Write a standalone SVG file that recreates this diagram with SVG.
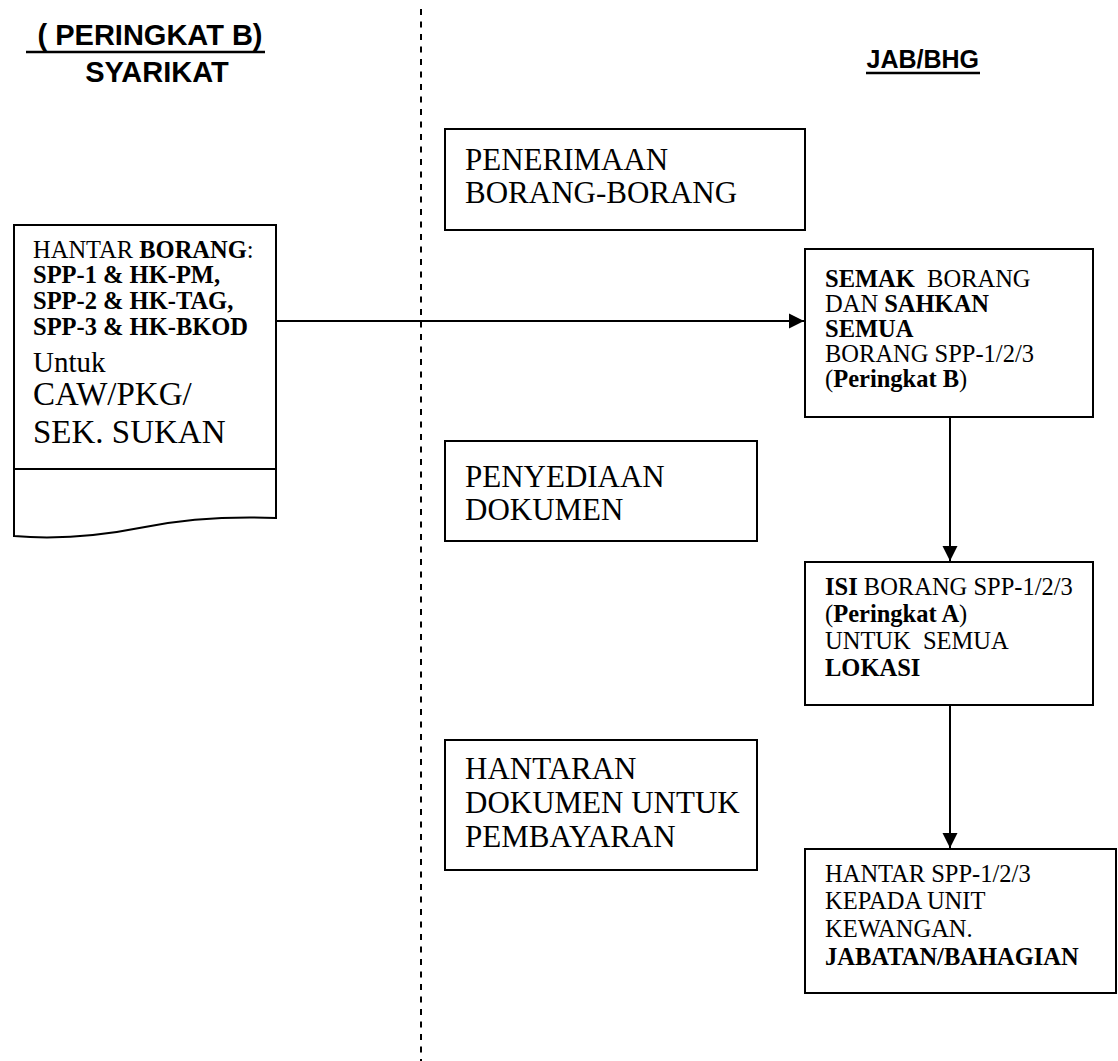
<svg xmlns="http://www.w3.org/2000/svg" width="1118" height="1061" viewBox="0 0 1118 1061">
<style>
.box{fill:#fff;stroke:#000;stroke-width:2}
.hdr{font-family:"Liberation Sans",Arial,sans-serif;font-weight:bold;fill:#000}
.t{font-family:"Liberation Serif","Times New Roman",serif;fill:#000}
.s{font-size:24.5px}
.big{font-size:31px}
.b{font-weight:bold}
.conn{stroke:#000;stroke-width:2;fill:none}
</style>
<defs>
<marker id="arr" markerWidth="16" markerHeight="16" refX="15" refY="8" orient="auto" markerUnits="userSpaceOnUse">
<path d="M0,0.5 L15,8 L0,15.5 Z" fill="#000"/>
</marker>
</defs>
<rect width="1118" height="1061" fill="#fff"/>
<line x1="421" y1="9" x2="421" y2="1061" stroke="#000" stroke-width="2" stroke-dasharray="6,6.5"/>
<g id="header-left">
<text class="hdr" x="146" y="45" font-size="29" text-anchor="middle" xml:space="preserve"> ( PERINGKAT B)</text>
<line x1="26" y1="52" x2="265" y2="52" stroke="#000" stroke-width="2.5"/>
<text class="hdr" x="157" y="82" font-size="29" text-anchor="middle">SYARIKAT</text>
</g>
<g id="header-right">
<text class="hdr" x="979" y="68" font-size="25" text-anchor="end">JAB/BHG</text>
<line x1="866" y1="73" x2="980" y2="73" stroke="#000" stroke-width="2.5"/>
</g>
<g id="node-hantar-borang">
<path class="box" d="M14,225 H276 V518 C220,516 180,520 145,527 C110,534 60,540 14,536 Z"/>
<line x1="14" y1="469" x2="276" y2="469" stroke="#000" stroke-width="2"/>
<text class="t s" x="33" y="258">HANTAR <tspan class="b">BORANG</tspan>:</text>
<text class="t s b" x="33" y="283">SPP-1 &amp; HK-PM,</text>
<text class="t s b" x="33" y="309">SPP-2 &amp; HK-TAG,</text>
<text class="t s b" x="33" y="335">SPP-3 &amp; HK-BKOD</text>
<text class="t" x="33" y="372" font-size="29">Untuk</text>
<text class="t" x="33" y="405" font-size="33">CAW/PKG/</text>
<text class="t" x="33" y="443" font-size="33">SEK. SUKAN</text>
</g>
<g id="node-penerimaan">
<rect class="box" x="445" y="129" width="360" height="101"/>
<text class="t big" x="465" y="170">PENERIMAAN</text>
<text class="t big" x="465" y="203">BORANG-BORANG</text>
</g>
<g id="node-penyediaan">
<rect class="box" x="445" y="441" width="312" height="100"/>
<text class="t big" x="465" y="487">PENYEDIAAN</text>
<text class="t big" x="465" y="520">DOKUMEN</text>
</g>
<g id="node-hantaran">
<rect class="box" x="445" y="740" width="312" height="130"/>
<text class="t big" x="465" y="779">HANTARAN</text>
<text class="t big" x="465" y="813">DOKUMEN UNTUK</text>
<text class="t big" x="465" y="847">PEMBAYARAN</text>
</g>
<g id="node-semak">
<rect class="box" x="805" y="249" width="288" height="168"/>
<text class="t s" x="825" y="287" xml:space="preserve"><tspan class="b">SEMAK</tspan>  BORANG</text>
<text class="t s" x="825" y="312">DAN <tspan class="b">SAHKAN</tspan></text>
<text class="t s b" x="825" y="337">SEMUA</text>
<text class="t s" x="825" y="362">BORANG SPP-1/2/3</text>
<text class="t s" x="825" y="387">(<tspan class="b">Peringkat B</tspan>)</text>
</g>
<g id="node-isi">
<rect class="box" x="805" y="562" width="288" height="143"/>
<text class="t s" x="825" y="595"><tspan class="b">ISI</tspan> BORANG SPP-1/2/3</text>
<text class="t s" x="825" y="622">(<tspan class="b">Peringkat A</tspan>)</text>
<text class="t s" x="825" y="649" xml:space="preserve">UNTUK  SEMUA</text>
<text class="t s b" x="825" y="676">LOKASI</text>
</g>
<g id="node-hantar-spp">
<rect class="box" x="805" y="849" width="311" height="144"/>
<text class="t s" x="825" y="882">HANTAR SPP-1/2/3</text>
<text class="t s" x="825" y="909">KEPADA UNIT</text>
<text class="t s" x="825" y="937">KEWANGAN.</text>
<text class="t s b" x="825" y="965">JABATAN/BAHAGIAN</text>
</g>
<g id="connectors">
<line class="conn" x1="277" y1="321" x2="804" y2="321" marker-end="url(#arr)"/>
<line class="conn" x1="950" y1="418" x2="950" y2="561" marker-end="url(#arr)"/>
<line class="conn" x1="950" y1="706" x2="950" y2="848" marker-end="url(#arr)"/>
</g>
</svg>
